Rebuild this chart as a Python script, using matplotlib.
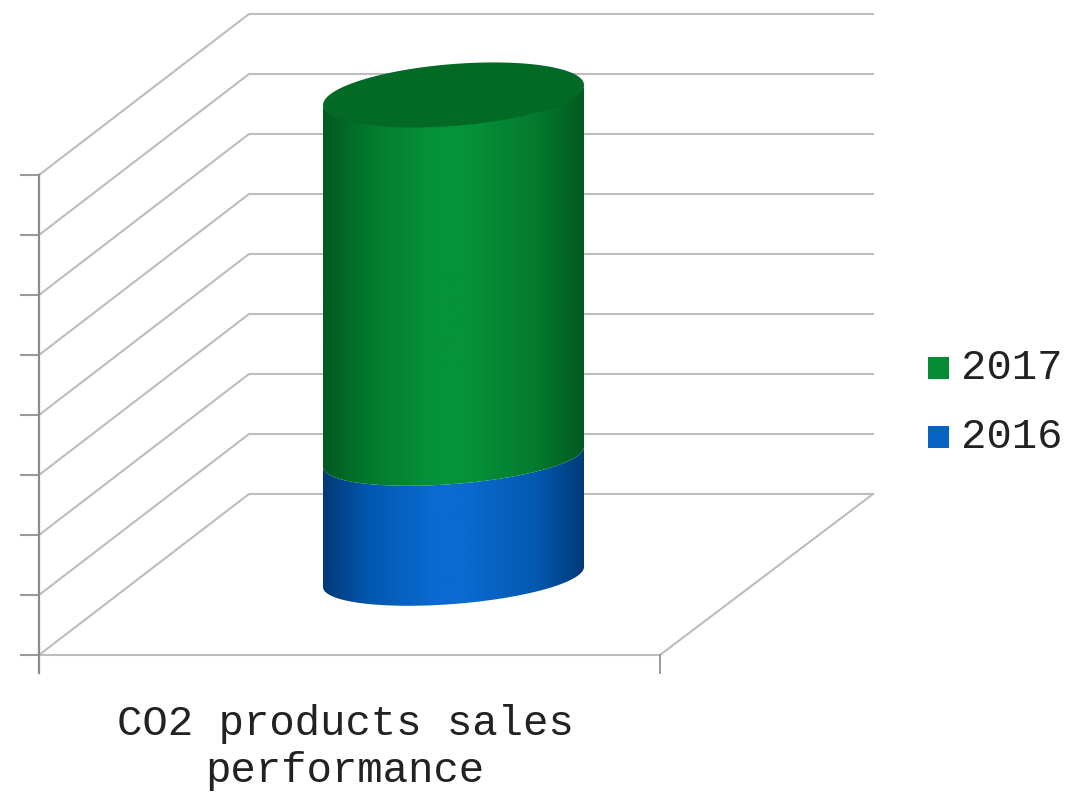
import numpy as np
import matplotlib
matplotlib.use("Agg")
import matplotlib.pyplot as plt
from matplotlib.colors import LinearSegmentedColormap
from matplotlib.patches import PathPatch
from matplotlib.path import Path

# values
category = ["CO2 products sales", "performance"]
years = ["2016", "2017"]
values = [2, 6]
y_ticks = [0, 1, 2, 3, 4, 5, 6, 7, 8]
colors = ["#0a6ad0", "#06923a"]
edge_colors = ["#023a78", "#025a20"]
mid_colors = ["#0358b0", "#047a2e"]
top_color = "#026a25"
grid_color = "#bdbdbd"

# projection: front axis and depth offset, in pixels
x_front, x_right = 39, 660
y_zero, unit = 655, 60
dx, dy = 210, -161


def py(v, depth=0.0):
    return y_zero - v * unit + dy * depth


def px(x, depth=0.0):
    return x + dx * depth


fig = plt.figure(figsize=(10.72, 7.93), dpi=100)
ax = fig.add_axes([0, 0, 1, 1])
ax.set_xlim(0, 1072)
ax.set_ylim(793, 0)
ax.axis("off")

# back wall, side wall and floor
for v in y_ticks:
    ax.plot([px(x_front), px(x_front, 1), px(x_right, 1) + 3],
            [py(v), py(v, 1), py(v, 1)], color=grid_color, lw=1.5, zorder=1)
    ax.plot([x_front - 18, x_front], [py(v), py(v)], color="#9a9a9a", lw=1.5, zorder=1)
ax.plot([x_front, x_right, px(x_right, 1) + 3], [py(0), py(0), py(0, 1)], color=grid_color, lw=1.5, zorder=1)
ax.plot([x_front, x_front], [py(0) + 18, py(y_ticks[-1])], color="#8c8c8c", lw=1.6, zorder=1)
ax.plot([x_right, x_right], [py(0), py(0) + 18], color="#9a9a9a", lw=1.4, zorder=1)

# cylinder geometry
x_left, x_end = 323, 584
y_base = 577
cx = (x_left + x_end) / 2
half_w = (x_end - x_left) / 2
tilt = 10
minor = 27
cap_minor = 31
cap_shift = -2


def ellipse_points(yc, t, b=minor):
    return cx + half_w * np.cos(t), yc - tilt * np.cos(t) + b * np.sin(t)


def band(y_low, y_high):
    t = np.linspace(0, np.pi, 80)
    x1, y1 = ellipse_points(y_low, t)
    x2, y2 = ellipse_points(y_high, t[::-1])
    pts = np.column_stack([np.r_[x1, x2], np.r_[y1, y2]])
    return Path(np.vstack([pts, pts[0]]), closed=True)


bottom = 0
for i, (val, col, edge, mid) in enumerate(zip(values, colors, edge_colors, mid_colors)):
    y_low = y_base - bottom * unit
    y_high = y_base - (bottom + val) * unit
    if i == len(values) - 1:
        y_high += cap_shift
    cmap = LinearSegmentedColormap.from_list(
        "c", [(0, edge), (0.18, mid), (0.42, col), (0.55, col), (0.82, mid), (1, edge)])
    im = ax.imshow(np.linspace(0, 1, 256).reshape(1, -1), cmap=cmap, aspect="auto",
                   extent=[x_left, x_end, y_low + 40, y_high - 40], zorder=3)
    patch = PathPatch(band(y_low, y_high), fc="none", ec="none", transform=ax.transData)
    ax.add_patch(patch)
    im.set_clip_path(patch)
    bottom += val

# top cap
t = np.linspace(0, 2 * np.pi, 160)
xt, yt = ellipse_points(y_base - bottom * unit + cap_shift, t, cap_minor)
ax.fill(xt, yt, color=top_color, lw=0, zorder=4)
ax.set_xlim(0, 1072)
ax.set_ylim(793, 0)

# category label
ax.text(345, 724, category[0], family="Liberation Mono", fontsize=30.5,
        ha="center", va="center", color="#222222")
ax.text(345, 771, category[1], family="Liberation Mono", fontsize=30.5,
        ha="center", va="center", color="#222222")

# legend
for name, col, yl in zip(years[::-1], ["#058a35", "#0563c1"], [368, 437]):
    ax.fill([928, 949, 949, 928], [yl - 11, yl - 11, yl + 11, yl + 11], color=col, lw=0)
    ax.text(961, yl, name, family="Liberation Mono", fontsize=30.5, ha="left", va="center", color="#222222")

fig.savefig("out.png", dpi=100)
